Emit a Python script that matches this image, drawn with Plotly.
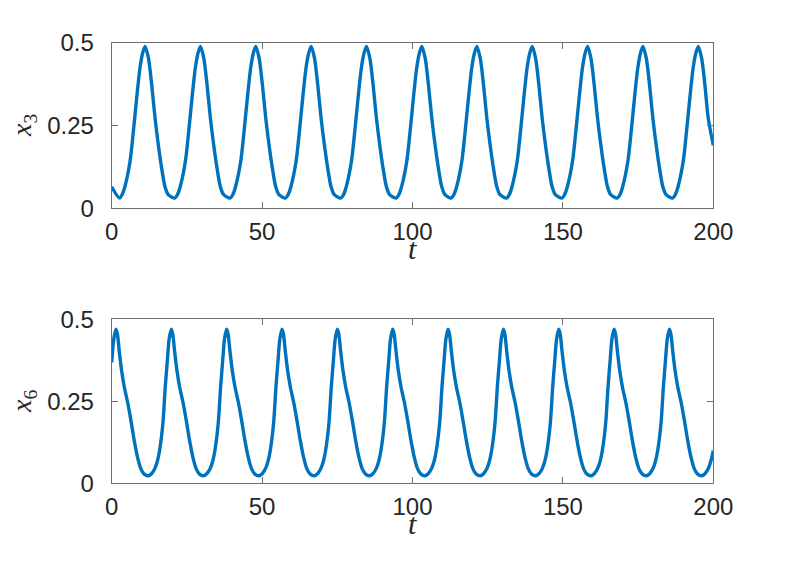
import plotly.graph_objects as go

# ---- data ----
t3 = [0.0,
      2.6, 3.5, 4.4, 6.1, 7.2, 8.3, 9.4, 10.3, 11.1, 12.2, 13.3, 14.4, 15.5, 16.6, 17.7, 18.8,
      21.0, 21.9, 22.8, 24.5, 25.6, 26.7, 27.8, 28.7, 29.5, 30.6, 31.7, 32.8, 33.9, 35.0, 36.1, 37.2,
      39.4, 40.3, 41.2, 42.9, 44.0, 45.1, 46.2, 47.1, 47.9, 49.0, 50.1, 51.2, 52.3, 53.4, 54.5, 55.6,
      57.8, 58.7, 59.6, 61.3, 62.4, 63.5, 64.6, 65.5, 66.3, 67.4, 68.5, 69.6, 70.7, 71.8, 72.9, 74.0,
      76.2, 77.1, 78.0, 79.7, 80.8, 81.9, 83.0, 83.9, 84.7, 85.8, 86.9, 88.0, 89.1, 90.2, 91.3, 92.4,
      94.6, 95.5, 96.4, 98.1, 99.2, 100.3, 101.4, 102.3, 103.1, 104.2, 105.3, 106.4, 107.5, 108.6, 109.7, 110.8,
      112.9, 113.8, 114.7, 116.4, 117.5, 118.6, 119.7, 120.6, 121.4, 122.5, 123.6, 124.7, 125.8, 126.9, 128.0, 129.1,
      131.3, 132.2, 133.1, 134.8, 135.9, 137.0, 138.1, 139.0, 139.8, 140.9, 142.0, 143.1, 144.2, 145.3, 146.4, 147.5,
      149.7, 150.6, 151.5, 153.2, 154.3, 155.4, 156.5, 157.4, 158.2, 159.3, 160.4, 161.5, 162.6, 163.7, 164.8, 165.9,
      168.1, 169.0, 169.9, 171.6, 172.7, 173.8, 174.9, 175.8, 176.6, 177.7, 178.8, 179.9, 181.0, 182.1, 183.2, 184.3,
      186.5, 187.4, 188.3, 190.0, 191.1, 192.2, 193.3, 194.2, 195.0, 196.1, 197.2, 198.3, 200.0]

x3 = [0.065,
      0.031, 0.042, 0.066, 0.142, 0.232, 0.333, 0.424, 0.469, 0.489, 0.454, 0.373, 0.273, 0.192, 0.122, 0.066, 0.041,
      0.031, 0.042, 0.066, 0.142, 0.232, 0.333, 0.424, 0.469, 0.489, 0.454, 0.373, 0.273, 0.192, 0.122, 0.066, 0.041,
      0.031, 0.042, 0.066, 0.142, 0.232, 0.333, 0.424, 0.469, 0.489, 0.454, 0.373, 0.273, 0.192, 0.122, 0.066, 0.041,
      0.031, 0.042, 0.066, 0.142, 0.232, 0.333, 0.424, 0.469, 0.489, 0.454, 0.373, 0.273, 0.192, 0.122, 0.066, 0.041,
      0.031, 0.042, 0.066, 0.142, 0.232, 0.333, 0.424, 0.469, 0.489, 0.454, 0.373, 0.273, 0.192, 0.122, 0.066, 0.041,
      0.031, 0.042, 0.066, 0.142, 0.232, 0.333, 0.424, 0.469, 0.489, 0.454, 0.373, 0.273, 0.192, 0.122, 0.066, 0.041,
      0.031, 0.042, 0.066, 0.142, 0.232, 0.333, 0.424, 0.469, 0.489, 0.454, 0.373, 0.273, 0.192, 0.122, 0.066, 0.041,
      0.031, 0.042, 0.066, 0.142, 0.232, 0.333, 0.424, 0.469, 0.489, 0.454, 0.373, 0.273, 0.192, 0.122, 0.066, 0.041,
      0.031, 0.042, 0.066, 0.142, 0.232, 0.333, 0.424, 0.469, 0.489, 0.454, 0.373, 0.273, 0.192, 0.122, 0.066, 0.041,
      0.031, 0.042, 0.066, 0.142, 0.232, 0.333, 0.424, 0.469, 0.489, 0.454, 0.373, 0.273, 0.192, 0.122, 0.066, 0.041,
      0.031, 0.042, 0.066, 0.142, 0.232, 0.333, 0.424, 0.469, 0.489, 0.454, 0.373, 0.273, 0.190]

t6 = [0.0,
      0.7, 1.4, 1.9, 2.5, 3.3, 4.2, 5.3, 6.4, 7.5, 8.6, 9.7, 10.8,
      12.2, 13.3, 14.3, 15.2, 15.9, 17.0, 17.8, 18.5, 19.1, 19.8, 20.3, 20.9, 21.7, 22.6, 23.7, 24.8, 25.9, 27.0, 28.1, 29.2,
      30.6, 31.7, 32.7, 33.6, 34.3, 35.4, 36.2, 36.9, 37.5, 38.2, 38.7, 39.3, 40.1, 41.0, 42.1, 43.2, 44.3, 45.4, 46.5, 47.6,
      49.0, 50.1, 51.1, 52.0, 52.7, 53.8, 54.6, 55.3, 55.9, 56.6, 57.1, 57.7, 58.5, 59.4, 60.5, 61.6, 62.7, 63.8, 64.9, 66.0,
      67.4, 68.5, 69.5, 70.4, 71.1, 72.2, 73.0, 73.7, 74.3, 75.0, 75.5, 76.1, 76.9, 77.8, 78.9, 80.0, 81.1, 82.2, 83.3, 84.4,
      85.8, 86.9, 87.9, 88.8, 89.5, 90.6, 91.4, 92.1, 92.7, 93.4, 93.9, 94.5, 95.3, 96.2, 97.3, 98.4, 99.5, 100.6, 101.7, 102.8,
      104.2, 105.3, 106.3, 107.2, 107.9, 109.0, 109.8, 110.5, 111.1, 111.8, 112.3, 112.9, 113.7, 114.6, 115.7, 116.8, 117.9, 119.0, 120.1, 121.2,
      122.6, 123.7, 124.7, 125.6, 126.3, 127.4, 128.2, 128.9, 129.5, 130.2, 130.7, 131.3, 132.1, 133.0, 134.1, 135.2, 136.3, 137.4, 138.5, 139.6,
      141.0, 142.1, 143.1, 144.0, 144.7, 145.8, 146.6, 147.3, 147.9, 148.6, 149.1, 149.7, 150.5, 151.4, 152.5, 153.6, 154.7, 155.8, 156.9, 158.0,
      159.4, 160.5, 161.5, 162.4, 163.1, 164.2, 165.0, 165.7, 166.3, 167.0, 167.5, 168.1, 168.9, 169.8, 170.9, 172.0, 173.1, 174.2, 175.3, 176.4,
      177.8, 178.9, 179.9, 180.8, 181.5, 182.6, 183.4, 184.1, 184.7, 185.4, 185.9, 186.5, 187.3, 188.2, 189.3, 190.4, 191.5, 192.6, 193.7, 194.8,
      196.2, 197.3, 198.3, 199.2, 200.0]

x6 = [0.369,
      0.440, 0.470, 0.455, 0.404, 0.343, 0.293, 0.247, 0.191, 0.130, 0.079, 0.044, 0.028,
      0.023, 0.030, 0.044, 0.068, 0.099, 0.181, 0.293, 0.374, 0.440, 0.470, 0.455, 0.404, 0.343, 0.293, 0.247, 0.191, 0.130, 0.079, 0.044, 0.028,
      0.023, 0.030, 0.044, 0.068, 0.099, 0.181, 0.293, 0.374, 0.440, 0.470, 0.455, 0.404, 0.343, 0.293, 0.247, 0.191, 0.130, 0.079, 0.044, 0.028,
      0.023, 0.030, 0.044, 0.068, 0.099, 0.181, 0.293, 0.374, 0.440, 0.470, 0.455, 0.404, 0.343, 0.293, 0.247, 0.191, 0.130, 0.079, 0.044, 0.028,
      0.023, 0.030, 0.044, 0.068, 0.099, 0.181, 0.293, 0.374, 0.440, 0.470, 0.455, 0.404, 0.343, 0.293, 0.247, 0.191, 0.130, 0.079, 0.044, 0.028,
      0.023, 0.030, 0.044, 0.068, 0.099, 0.181, 0.293, 0.374, 0.440, 0.470, 0.455, 0.404, 0.343, 0.293, 0.247, 0.191, 0.130, 0.079, 0.044, 0.028,
      0.023, 0.030, 0.044, 0.068, 0.099, 0.181, 0.293, 0.374, 0.440, 0.470, 0.455, 0.404, 0.343, 0.293, 0.247, 0.191, 0.130, 0.079, 0.044, 0.028,
      0.023, 0.030, 0.044, 0.068, 0.099, 0.181, 0.293, 0.374, 0.440, 0.470, 0.455, 0.404, 0.343, 0.293, 0.247, 0.191, 0.130, 0.079, 0.044, 0.028,
      0.023, 0.030, 0.044, 0.068, 0.099, 0.181, 0.293, 0.374, 0.440, 0.470, 0.455, 0.404, 0.343, 0.293, 0.247, 0.191, 0.130, 0.079, 0.044, 0.028,
      0.023, 0.030, 0.044, 0.068, 0.099, 0.181, 0.293, 0.374, 0.440, 0.470, 0.455, 0.404, 0.343, 0.293, 0.247, 0.191, 0.130, 0.079, 0.044, 0.028,
      0.023, 0.030, 0.044, 0.068, 0.099, 0.181, 0.293, 0.374, 0.440, 0.470, 0.455, 0.404, 0.343, 0.293, 0.247, 0.191, 0.130, 0.079, 0.044, 0.028,
      0.023, 0.030, 0.044, 0.068, 0.100]

x_ticks = [0, 50, 100, 150, 200]
y_ticks = [0, 0.25, 0.5]
y_tick_labels = ["0", "0.25", "0.5"]

LINE_COLOR = "#0072BD"
AX_COLOR = "#6e6e6e"
TICK_FONT = dict(family="Liberation Sans, Arial, sans-serif", size=24, color="#262626")

# the page adds an 8 px body margin, so the figure is offset by 8 px
OFF = 8
W, H = 789 - OFF, 581 - OFF


def fx(px):
    return (px - OFF) / W


def fy(py):
    return 1 - (py - OFF) / H


fig = go.Figure()
fig.add_trace(go.Scatter(x=t3, y=x3, mode="lines", xaxis="x", yaxis="y",
                         line=dict(color=LINE_COLOR, width=3.4, shape="spline", smoothing=0.8),
                         showlegend=False))
fig.add_trace(go.Scatter(x=t6, y=x6, mode="lines", xaxis="x2", yaxis="y2",
                         line=dict(color=LINE_COLOR, width=3.4, shape="spline", smoothing=0.8),
                         showlegend=False))

xdom = [fx(111.7), fx(713.3)]
ydom_top = [fy(208.3), fy(42.7)]
ydom_bot = [fy(483.3), fy(319.3)]

common_x = dict(range=[0, 200], tickvals=x_ticks, ticks="inside", ticklen=6, tickcolor=AX_COLOR,
                showline=True, linecolor=AX_COLOR, linewidth=1, mirror="ticks", showgrid=False,
                zeroline=False, tickfont=TICK_FONT, domain=xdom, ticklabelstandoff=2,
                automargin=False)
common_y = dict(range=[0, 0.5], tickvals=y_ticks, ticktext=y_tick_labels, ticks="inside", ticklen=6,
                tickcolor=AX_COLOR, showline=True, linecolor=AX_COLOR, linewidth=1, mirror="ticks",
                showgrid=False, zeroline=False, tickfont=TICK_FONT, ticklabelstandoff=12,
                automargin=False)

fig.update_layout(
    width=W, height=H, margin=dict(l=0, r=0, t=0, b=0, pad=0, autoexpand=False),
    paper_bgcolor="white", plot_bgcolor="white",
    xaxis=dict(**common_x, anchor="y"),
    yaxis=dict(**common_y, domain=ydom_top, anchor="x"),
    xaxis2=dict(**common_x, anchor="y2"),
    yaxis2=dict(**common_y, domain=ydom_bot, anchor="x2"),
)

TITLE_FONT = dict(family="Liberation Serif, Times New Roman, serif", size=30, color="#262626")
YT_FONT = dict(family="Liberation Serif, Times New Roman, serif", size=28, color="#262626")
ann = [
    dict(text="<i>t</i>", x=fx(412.5), y=fy(248), font=TITLE_FONT),
    dict(text="<i>t</i>", x=fx(412.5), y=fy(523), font=TITLE_FONT),
    dict(text="<i>x</i><sub>3</sub>", x=fx(23), y=fy(125), textangle=-90, font=YT_FONT),
    dict(text="<i>x</i><sub>6</sub>", x=fx(23), y=fy(401), textangle=-90, font=YT_FONT),
]
for a in ann:
    fig.add_annotation(xref="paper", yref="paper", showarrow=False,
                       xanchor="center", yanchor="middle", **a)

fig.write_html("out.html")
